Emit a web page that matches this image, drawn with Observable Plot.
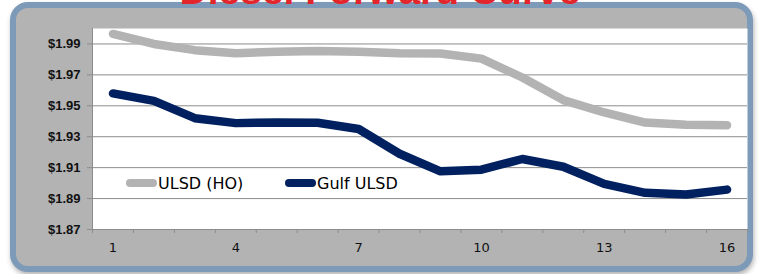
<!DOCTYPE html>
<html>
<head>
<meta charset="utf-8">
<script src="https://cdn.jsdelivr.net/npm/d3@7"></script>
<script src="https://cdn.jsdelivr.net/npm/@observablehq/plot@0.6"></script>
<style>
  html, body { margin: 0; padding: 0; background: #fff; width: 760px; height: 274px; overflow: hidden; }
  #wrap { position: relative; width: 760px; height: 274px; }
  #panel { position: absolute; left: 10px; top: 2px; width: 743px; height: 270px; box-sizing: border-box;
    border: 6px solid #7d9ab8; border-radius: 18px; background: #b3b3b3;
    box-shadow: 1px 3px 5px rgba(0,0,0,0.3); }
  #title { position: absolute; left: 0; width: 760px; top: -29.5px; text-align: center;
    font: bold 39px/39px "Liberation Sans", Arial, sans-serif; color: #e3262b; z-index: 3; }
  #chart { position: absolute; left: 0; top: 0; z-index: 1; }
  .sw { position: absolute; height: 8px; width: 31px; border-radius: 4px; z-index: 2; }
  .lt { position: absolute; font: 16px/16px "DejaVu Sans", sans-serif; color: #000; z-index: 2; white-space: nowrap; }
</style>
</head>
<body>
<div id="wrap">
  <div id="panel"></div>
  <div id="title"></div>
  <div id="chart"></div>
</div>
<script>
const titleText = "Diesel Forward Curve";
const categories = [1,2,3,4,5,6,7,8,9,10,11,12,13,14,15,16];
const xTickLabels = [1,4,7,10,13,16];
const yTicks = [1.87,1.89,1.91,1.93,1.95,1.97,1.99];
const seriesNames = ["ULSD (HO)", "Gulf ULSD"];
const seriesColors = ["#b3b3b3", "#002060"];
const ulsdHO = [1.9965,1.9900,1.9860,1.9840,1.9850,1.9855,1.9850,1.9840,1.9838,1.9805,1.9683,1.9537,1.9457,1.9392,1.9377,1.9375];
const gulfULSD = [1.9580,1.9532,1.9420,1.9388,1.9392,1.9390,1.9350,1.9190,1.9076,1.9087,1.9156,1.9106,1.8995,1.8937,1.8926,1.8958];

document.getElementById("title").textContent = titleText;

const rows = [];
categories.forEach((c, i) => {
  rows.push({x: c, y: ulsdHO[i], s: seriesNames[0]});
});
categories.forEach((c, i) => {
  rows.push({x: c, y: gulfULSD[i], s: seriesNames[1]});
});
const edges = categories.map(c => c - 0.5).concat([categories[categories.length - 1] + 0.5]);

const chart = Plot.plot({
  width: 760,
  height: 274,
  marginLeft: 92,
  marginRight: 13,
  marginTop: 28,
  marginBottom: 45,
  style: "background: transparent; overflow: visible; color: #000;",
  x: {type: "linear", domain: [edges[0], edges[edges.length - 1]], label: null},
  y: {domain: [1.87, 2.00], label: null},
  color: {domain: seriesNames, range: seriesColors},
  marks: [
    Plot.frame({fill: "white", stroke: null}),
    Plot.gridY(yTicks, {stroke: "#8c8c8c", strokeOpacity: 1, strokeWidth: 1}),
    Plot.frame({anchor: "left", stroke: "#8c8c8c", strokeOpacity: 1}),
    Plot.axisY(yTicks, {tickSize: 5, tickPadding: 7, stroke: "#8c8c8c",
      tickFormat: d => "$" + d.toFixed(2), fontSize: 13, fontWeight: "bold",
      fontFamily: "Liberation Sans, Arial, sans-serif", fill: "#111", label: null}),
    Plot.axisX(edges, {tickSize: 4, stroke: "#8c8c8c", tickFormat: () => "", label: null}),
    Plot.axisX(xTickLabels, {tickSize: 0, tickPadding: 13, fontSize: 13,
      fontFamily: "DejaVu Sans, sans-serif", fill: "#111", tickFormat: d => String(d), label: null}),
    Plot.line(rows, {x: "x", y: "y", z: "s", stroke: "s", strokeWidth: 8.5,
      strokeLinecap: "round", strokeLinejoin: "round"})
  ]
});
document.getElementById("chart").appendChild(chart);

// legend
const wrap = document.getElementById("wrap");
const legendPos = [{sw: 126, tx: 158}, {sw: 285, tx: 317}];
seriesNames.forEach((name, i) => {
  const sw = document.createElement("div");
  sw.className = "sw";
  sw.style.left = legendPos[i].sw + "px";
  sw.style.top = "179px";
  sw.style.background = seriesColors[i];
  wrap.appendChild(sw);
  const t = document.createElement("div");
  t.className = "lt";
  t.style.left = legendPos[i].tx + "px";
  t.style.top = "175.5px";
  t.textContent = name;
  wrap.appendChild(t);
});
</script>
</body>
</html>
